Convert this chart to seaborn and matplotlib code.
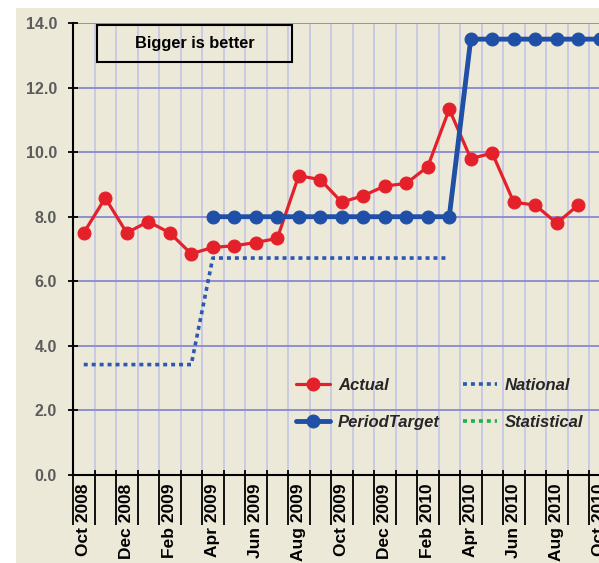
import numpy as np
import pandas as pd
import matplotlib
matplotlib.use("Agg")
import matplotlib.pyplot as plt
from matplotlib.patches import Rectangle
import seaborn as sns

nan = np.nan

months = ["Oct 2008", "Nov 2008", "Dec 2008", "Jan 2009", "Feb 2009", "Mar 2009",
          "Apr 2009", "May 2009", "Jun 2009", "Jul 2009", "Aug 2009", "Sep 2009",
          "Oct 2009", "Nov 2009", "Dec 2009", "Jan 2010", "Feb 2010", "Mar 2010",
          "Apr 2010", "May 2010", "Jun 2010", "Jul 2010", "Aug 2010", "Sep 2010",
          "Oct 2010", "Nov 2010"]

actual = [7.5, 8.58, 7.5, 7.85, 7.5, 6.85, 7.05, 7.1, 7.2, 7.33, 9.27, 9.15,
          8.45, 8.65, 8.95, 9.03, 9.55, 11.33, 9.8, 9.97, 8.45, 8.36, 7.8, 8.36,
          nan, nan]
period_target = [nan, nan, nan, nan, nan, nan, 8.0, 8.0, 8.0, 8.0, 8.0, 8.0,
                 8.0, 8.0, 8.0, 8.0, 8.0, 8.0, 13.5, 13.5, 13.5, 13.5, 13.5, 13.5,
                 13.5, 13.5]
national = [3.42, 3.42, 3.42, 3.42, 3.42, 3.42, 6.72, 6.72, 6.72, 6.72, 6.72, 6.72,
            6.72, 6.72, 6.72, 6.72, 6.72, 6.72, nan, nan, nan, nan, nan, nan,
            nan, nan]
statistical = [nan] * len(months)

tick_labels = ["Oct 2008", "Dec 2008", "Feb 2009", "Apr 2009", "Jun 2009", "Aug 2009",
               "Oct 2009", "Dec 2009", "Feb 2010", "Apr 2010", "Jun 2010", "Aug 2010",
               "Oct 2010"]
y_ticks = [0.0, 2.0, 4.0, 6.0, 8.0, 10.0, 12.0, 14.0]

BEIGE = "#ECE9D8"
RED = "#E4202A"
BLUE = "#1F4FA6"
NATBLUE = "#2A58B2"
GREEN = "#22B04B"
FONT = "Liberation Sans"

sns.set_style("ticks")
plt.rcParams["font.family"] = [FONT, "DejaVu Sans"]

W, H = 599, 563
fig = plt.figure(figsize=(W / 100, H / 100), dpi=100, facecolor="white")
fig.patches.append(Rectangle((16 / W, 0), 1, 1 - 8 / H, transform=fig.transFigure,
                             facecolor=BEIGE, edgecolor="none", zorder=-10))

ax = fig.add_axes([73 / W, 1 - 475 / H, 559 / W, 452 / H])
ax.set_facecolor(BEIGE)

x = np.arange(len(months))
df = pd.DataFrame({"pos": x, "month": months, "Actual": actual,
                   "PeriodTarget": period_target, "National": national,
                   "Statistical": statistical})

sns.lineplot(data=df, x="pos", y="Actual", ax=ax, color=RED, lw=2.3, marker="o",
             markersize=9.3, markeredgecolor=RED, estimator=None, zorder=3)
sns.lineplot(data=df, x="pos", y="PeriodTarget", ax=ax, color=BLUE, lw=3.5, marker="o",
             markersize=9.3, markeredgecolor=BLUE, estimator=None, zorder=4)
sns.lineplot(data=df, x="pos", y="National", ax=ax, color=NATBLUE, lw=2.6,
             linestyle=(0, (1.1, 1.1)), estimator=None, zorder=3)
ax.plot(x, statistical, color=GREEN, lw=2.6, linestyle=(0, (1.1, 1.1)))

# axes limits / grid
ax.set_xlim(-0.5, len(months) - 0.5)
ax.set_ylim(0, 14)
boundaries = np.arange(len(months) + 1) - 0.5
ax.set_xticks(boundaries, minor=True)
label_pos = [months.index(m) for m in tick_labels]
ax.set_xticks(label_pos)
ax.set_xticklabels(tick_labels, rotation=90, fontsize=12.5, fontweight="bold",
                   color="black", va="top", ha="center")
ax.set_yticks(y_ticks)
ax.set_yticklabels([f"{v:.1f}" for v in y_ticks], fontsize=11.5, fontweight="bold",
                   color="#5C5C5C")

ax.grid(False)
ax.grid(which="minor", axis="x", color="#C4C4E8", lw=1.2, zorder=0)
ax.grid(which="major", axis="y", color="#8E8ED2", lw=1.4, zorder=0)
ax.set_axisbelow(True)

ax.tick_params(axis="x", which="major", length=0, pad=6)
ax.tick_params(axis="x", which="minor", direction="out", length=36, width=1.3,
               color="black")
ax.tick_params(axis="y", which="major", direction="inout", length=7, width=1.3,
               color="black", pad=8)
ax.vlines(boundaries, 0, 0.16, colors="black", lw=1.3, zorder=2, clip_on=False)

for s in ["top", "right"]:
    ax.spines[s].set_visible(False)
for s in ["left", "bottom"]:
    ax.spines[s].set_color("black")
    ax.spines[s].set_linewidth(1.5)
ax.set_xlabel("")
ax.set_ylabel("")

lines = ax.get_lines()
handles = [lines[0], lines[1], lines[2], lines[3]]
labels = ["Actual", "PeriodTarget", "National", "Statistical"]
leg = fig.legend(handles, labels, ncol=2, loc="center",
                 bbox_to_anchor=(440 / W, 1 - 404 / H), frameon=False,
                 prop=dict(family=FONT, weight="bold", style="italic", size=12),
                 handlelength=2.0, handletextpad=0.5, columnspacing=1.4,
                 labelspacing=1.3)

# "Bigger is better" box
fig.patches.append(Rectangle((97 / W, 1 - 62 / H), 195 / W, 37 / H,
                             transform=fig.transFigure, fill=False,
                             edgecolor="black", lw=1.5, zorder=5))
fig.text(194.5 / W, 1 - 43.5 / H, "Bigger is better", ha="center", va="center",
         fontsize=11.8, fontweight="bold", family=FONT, color="black")

fig.savefig("out.png", dpi=100, facecolor=fig.get_facecolor())
